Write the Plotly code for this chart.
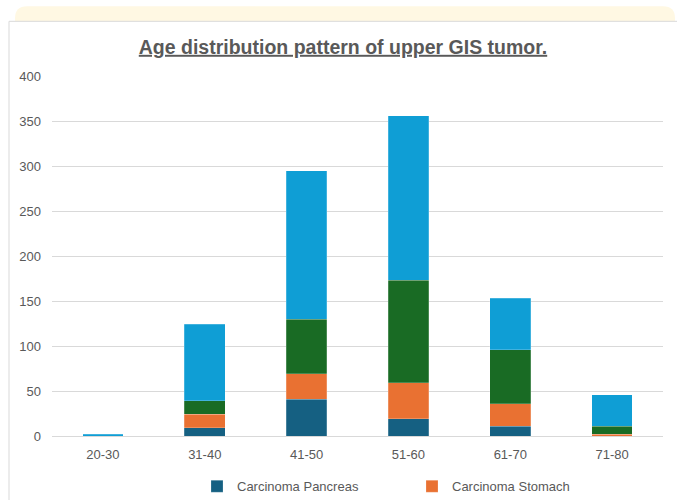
import plotly.graph_objects as go

categories = ["20-30", "31-40", "41-50", "51-60", "61-70", "71-80"]
pancreas = [0, 9, 41, 19, 11, 0]
stomach = [0, 15, 28, 40, 25, 2]
series3 = [0, 15, 61, 114, 60, 9]
series4 = [2, 85, 165, 183, 57, 35]

W, H = 677, 500
L, R, T, B = 52, 14, 75.7, 64.3
PW, PH = W - L - R, H - T - B

def px(x):
    return (x - L) / PW

def py(y):
    return (H - B - y) / PH

fig = go.Figure()
colors = ["#156082", "#E97132", "#196B24", "#0F9ED5"]
names = ["Carcinoma Pancreas", "Carcinoma Stomach", "Series 3", "Series 4"]
for vals, c, n, sl in zip([pancreas, stomach, series3, series4], colors, names,
                          [True, True, False, False]):
    fig.add_trace(go.Bar(x=categories, y=vals, name=n, showlegend=sl,
                         marker=dict(color=c, line=dict(color="rgba(255,255,255,0.35)", width=0.6))))

font = "Liberation Sans, Arial"
tfont = "Liberation Sans Narrow, Liberation Sans, Arial"
shapes = []
# yellow band with rounded top corners
x0, x1, y0, y1, r = px(15), px(675), py(21), py(6), 12
rx = r / PW
ry = r / PH
shapes.append(dict(type="path", xref="paper", yref="paper",
                   path=f"M {x0},{y0} L {x0},{y1 - ry} Q {x0},{y1} {x0 + rx},{y1} "
                        f"L {x1 - rx},{y1} Q {x1},{y1} {x1},{y1 - ry} L {x1},{y0} Z",
                   fillcolor="#FFF8E3", line=dict(width=0), layer="below"))
# card border
shapes.append(dict(type="line", xref="paper", yref="paper", x0=px(9), x1=px(9), y0=py(21), y1=py(505),
                   line=dict(color="#D9D9D9", width=1)))
shapes.append(dict(type="line", xref="paper", yref="paper", x0=px(9), x1=px(680), y0=py(21), y1=py(21),
                   line=dict(color="#D9D9D9", width=1)))

fig.update_layout(
    width=W, height=H,
    margin=dict(l=L, r=R, t=T, b=B, autoexpand=False),
    paper_bgcolor="white", plot_bgcolor="white",
    barmode="stack", bargap=0.6,
    font=dict(family=font, color="#595959", size=13),
    title=dict(text="<b><u>Age distribution pattern of upper GIS tumor.</u></b>",
               x=343 / W, xanchor="center", y=1 - 47 / H, yanchor="middle", yref="container",
               font=dict(family=tfont, size=19.5, color="#595959")),
    xaxis=dict(showgrid=False, showline=True, linecolor="#D9D9D9", linewidth=1,
               ticks="", tickfont=dict(size=13, color="#595959"), ticklabelstandoff=6),
    yaxis=dict(range=[0, 400], dtick=50, showgrid=True, gridcolor="#D9D9D9", gridwidth=1,
               zeroline=False, showline=False, ticks="", ticklabelstandoff=10,
               tickfont=dict(size=13, color="#595959")),
    legend=dict(orientation="h", x=px(197), xanchor="left", y=py(486), yanchor="middle",
                traceorder="normal",
                font=dict(size=13, color="#595959"), entrywidth=170, entrywidthmode="pixels",
                itemwidth=30, bgcolor="rgba(0,0,0,0)"),
    shapes=shapes,
)

fig.write_html("out.html", post_script="document.body.style.margin='0px';",
               config={"displayModeBar": False})
